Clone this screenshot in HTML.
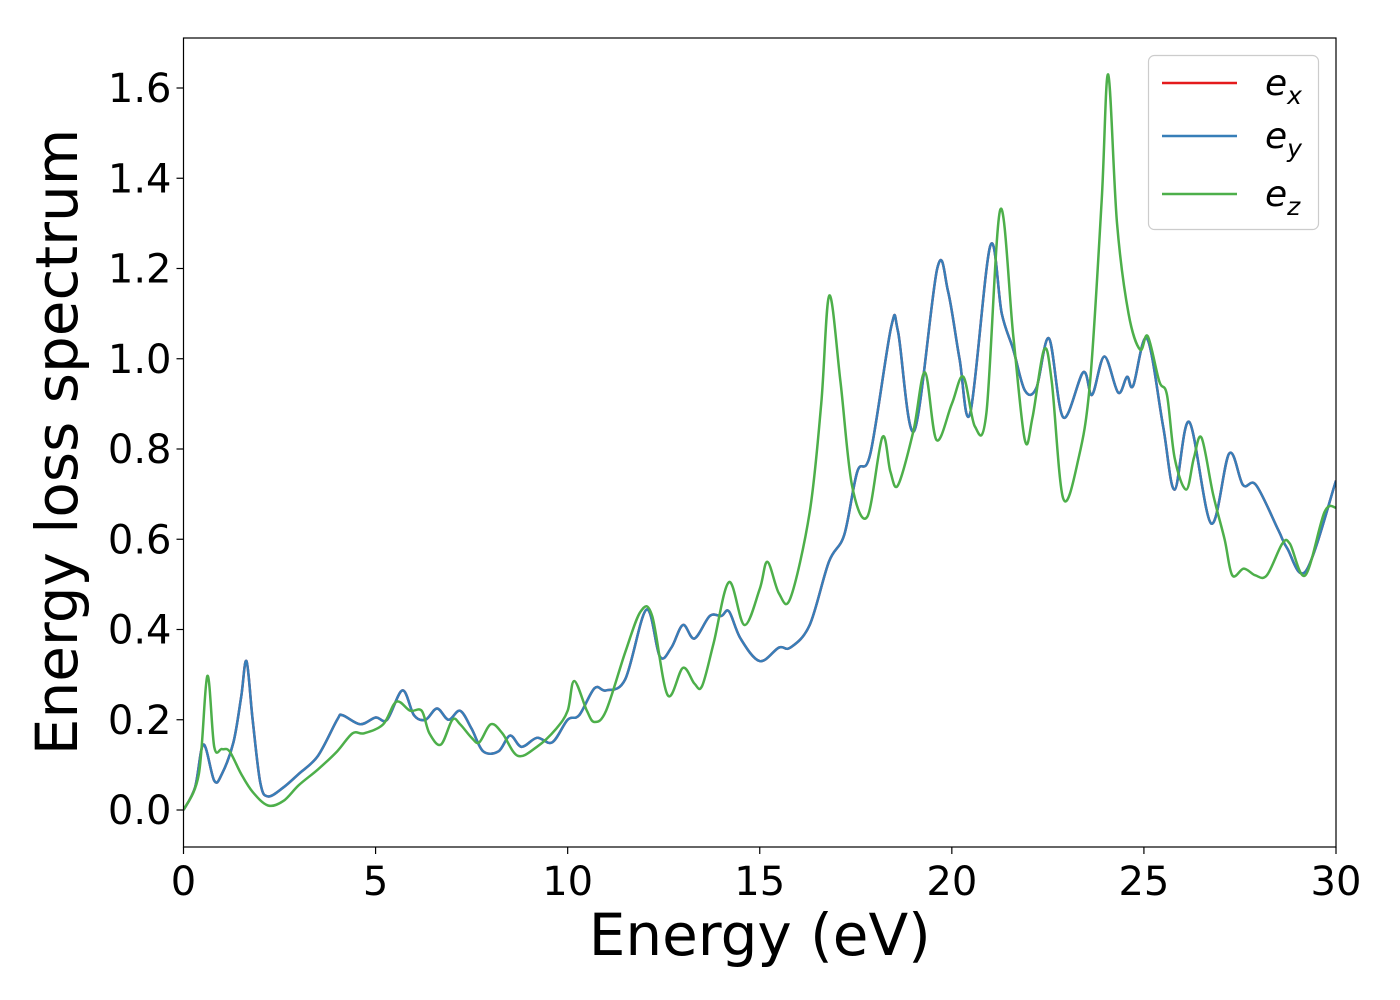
<!DOCTYPE html>
<html><head><meta charset="utf-8">
<style>
html,body{margin:0;padding:0;background:#fff;}
svg{display:block;font-family:"DejaVu Sans","Liberation Sans",sans-serif;}
</style></head>
<body>
<svg id="chart" width="1400" height="1000" viewBox="0 0 1400 1000">
<g id="plot"></g>
</svg>
<script>
const xTicks=[0,5,10,15,20,25,30];
const yTicks=[0.0,0.2,0.4,0.6,0.8,1.0,1.2,1.4,1.6];
const eyE=[0,0.3,0.52,0.8,1.0,1.3,1.5,1.64,1.8,2.0,2.2,2.6,3.0,3.5,4.0,4.14,4.6,5.0,5.3,5.7,6.0,6.3,6.6,6.9,7.2,7.5,7.8,8.2,8.5,8.8,9.2,9.6,10.0,10.3,10.7,11.0,11.5,12.05,12.4,12.7,13.0,13.3,13.7,14.0,14.2,14.5,15.0,15.5,15.8,16.3,16.8,17.2,17.54,17.88,18.42,18.6,19.02,19.62,19.9,20.2,20.48,21.0,21.3,21.6,21.9,22.2,22.53,22.9,23.42,23.65,23.97,24.33,24.56,24.72,25.08,25.5,25.8,26.18,26.75,27.22,27.58,27.92,28.5,28.73,29.22,30];
const eyV=[0,0.05,0.145,0.065,0.08,0.15,0.25,0.33,0.2,0.06,0.03,0.05,0.08,0.12,0.2,0.21,0.19,0.205,0.2,0.265,0.21,0.2,0.225,0.2,0.22,0.18,0.13,0.13,0.165,0.14,0.16,0.15,0.2,0.21,0.27,0.265,0.29,0.444,0.34,0.36,0.41,0.38,0.43,0.43,0.44,0.38,0.33,0.36,0.36,0.41,0.55,0.61,0.75,0.79,1.07,1.06,0.84,1.2,1.15,1.0,0.88,1.25,1.1,1.02,0.93,0.935,1.045,0.87,0.97,0.92,1.005,0.925,0.96,0.94,1.045,0.85,0.71,0.86,0.635,0.79,0.72,0.72,0.62,0.58,0.53,0.73];
const ezE=[0,0.4,0.62,0.8,1.0,1.2,1.5,1.8,2.2,2.6,3.0,3.5,4.0,4.4,4.7,5.2,5.54,5.9,6.2,6.4,6.7,7.0,7.2,7.5,7.7,8.0,8.3,8.7,9.2,9.7,10.0,10.17,10.5,10.7,11.0,11.5,11.9,12.2,12.6,13.0,13.3,13.5,13.8,14.2,14.6,15.0,15.2,15.5,15.8,16.3,16.6,16.81,17.1,17.4,17.8,18.19,18.4,18.6,19.0,19.3,19.6,20.0,20.3,20.6,20.9,21.26,21.6,21.9,22.1,22.4,22.6,22.9,23.3,23.6,23.9,24.07,24.3,24.6,24.9,25.1,25.4,25.6,25.8,26.1,26.3,26.5,26.8,27.1,27.3,27.6,27.9,28.2,28.6,28.8,29.2,29.7,30];
const ezV=[0,0.08,0.297,0.14,0.135,0.13,0.08,0.04,0.01,0.02,0.055,0.09,0.13,0.17,0.17,0.19,0.24,0.22,0.22,0.17,0.145,0.2,0.19,0.16,0.15,0.19,0.17,0.12,0.14,0.18,0.22,0.286,0.22,0.195,0.22,0.35,0.44,0.43,0.255,0.315,0.28,0.275,0.37,0.505,0.41,0.49,0.55,0.48,0.47,0.66,0.9,1.14,0.95,0.72,0.65,0.826,0.75,0.72,0.84,0.97,0.82,0.9,0.96,0.85,0.88,1.33,1.05,0.82,0.87,1.02,0.95,0.69,0.78,0.95,1.35,1.63,1.3,1.1,1.02,1.05,0.95,0.92,0.78,0.71,0.78,0.825,0.7,0.6,0.52,0.535,0.52,0.52,0.59,0.59,0.52,0.66,0.67];
const exE=eyE.slice();
const exV=eyV.slice();

const NS="http://www.w3.org/2000/svg";
const L=183.5,R=1336,T=38,B=847;
const xS=e=>L+(e-0)*(R-L)/30;
const yS=v=>810-v*(810-88)/1.6;
const g=document.getElementById('plot');
function mk(tag,attrs,parent){const el=document.createElementNS(NS,tag);for(const k in attrs)el.setAttribute(k,attrs[k]);(parent||g).appendChild(el);return el;}
function pathFor(E,V){
  const p=E.map((e,i)=>[xS(e),yS(V[i])]);
  let d="M"+p[0][0].toFixed(2)+","+p[0][1].toFixed(2);
  for(let i=0;i<p.length-1;i++){
    const p0=p[i-1]||p[i],p1=p[i],p2=p[i+1],p3=p[i+2]||p2;
    const c1=[p1[0]+(p2[0]-p0[0])/6,p1[1]+(p2[1]-p0[1])/6];
    const c2=[p2[0]-(p3[0]-p1[0])/6,p2[1]-(p3[1]-p1[1])/6];
    c1[0]=Math.min(Math.max(c1[0],p1[0]),p2[0]);c2[0]=Math.min(Math.max(c2[0],p1[0]),p2[0]);
    d+=" C"+c1[0].toFixed(2)+","+c1[1].toFixed(2)+" "+c2[0].toFixed(2)+","+c2[1].toFixed(2)+" "+p2[0].toFixed(2)+","+p2[1].toFixed(2);
  }
  return d;
}
// clip
const defs=mk('defs',{});
const cp=mk('clipPath',{id:'clip'},defs);
mk('rect',{x:L,y:T,width:R-L,height:B-T},cp);
const series=mk('g',{'clip-path':'url(#clip)'});
let el;
el=mk('path',{d:pathFor(exE,exV),fill:'none',stroke:'#e41a1c','stroke-width':2.5},series);


el=mk('path',{d:pathFor(eyE,eyV),fill:'none',stroke:'#377eb8','stroke-width':2.5},series);


el=mk('path',{d:pathFor(ezE,ezV),fill:'none',stroke:'#4daf4a','stroke-width':2.5},series);


// frame
el=mk('rect',{x:L,y:T,width:R-L,height:B-T,fill:'none',stroke:'#000','stroke-width':1.2});


// ticks
xTicks.forEach(t=>{
  const x=xS(t);
  mk('line',{x1:x,x2:x,y1:B,y2:B+7,stroke:'#000','stroke-width':1.2});
  const tx=mk('text',{x:x,y:B+48,'font-size':40,'text-anchor':'middle',fill:'#000'});
  tx.textContent=String(t);
  
  
});
yTicks.forEach(t=>{
  const y=yS(t);
  mk('line',{x1:L-7,x2:L,y1:y,y2:y,stroke:'#000','stroke-width':1.2});
  const tx=mk('text',{x:L-12,y:y+14,'font-size':40,'text-anchor':'end',fill:'#000'});
  tx.textContent=t.toFixed(1);
  
  
});
// axis titles
el=mk('text',{x:(L+R)/2,y:955,'font-size':58,'text-anchor':'middle',fill:'#000'});
el.textContent='Energy (eV)';


el=mk('text',{x:0,y:0,'font-size':58,'text-anchor':'middle',fill:'#000',transform:'translate(77,442) rotate(-90)'});
el.textContent='Energy loss spectrum';


// legend
const lg=mk('g',{});


mk('rect',{x:1148.5,y:55.5,width:170,height:174,rx:6,fill:'#fff','fill-opacity':0.8,stroke:'#ccc','stroke-width':1.2},lg);
const legNames=['x','y','z'];
const legCols=['#e41a1c','#377eb8','#4daf4a'];
const legY=[83,136,194];
legNames.forEach((n,i)=>{
  mk('line',{x1:1162,x2:1237,y1:legY[i],y2:legY[i],stroke:legCols[i],'stroke-width':2.5},lg);
  const t=mk('text',{x:1265,y:legY[i]+12,'font-size':36,'font-style':'italic',fill:'#000'},lg);
  
  
  const a=document.createElementNS(NS,'tspan');a.textContent='e';t.appendChild(a);
  const b=document.createElementNS(NS,'tspan');b.setAttribute('font-size','25');b.setAttribute('dy','9');b.textContent=n;t.appendChild(b);
});
</script>
</body></html>
